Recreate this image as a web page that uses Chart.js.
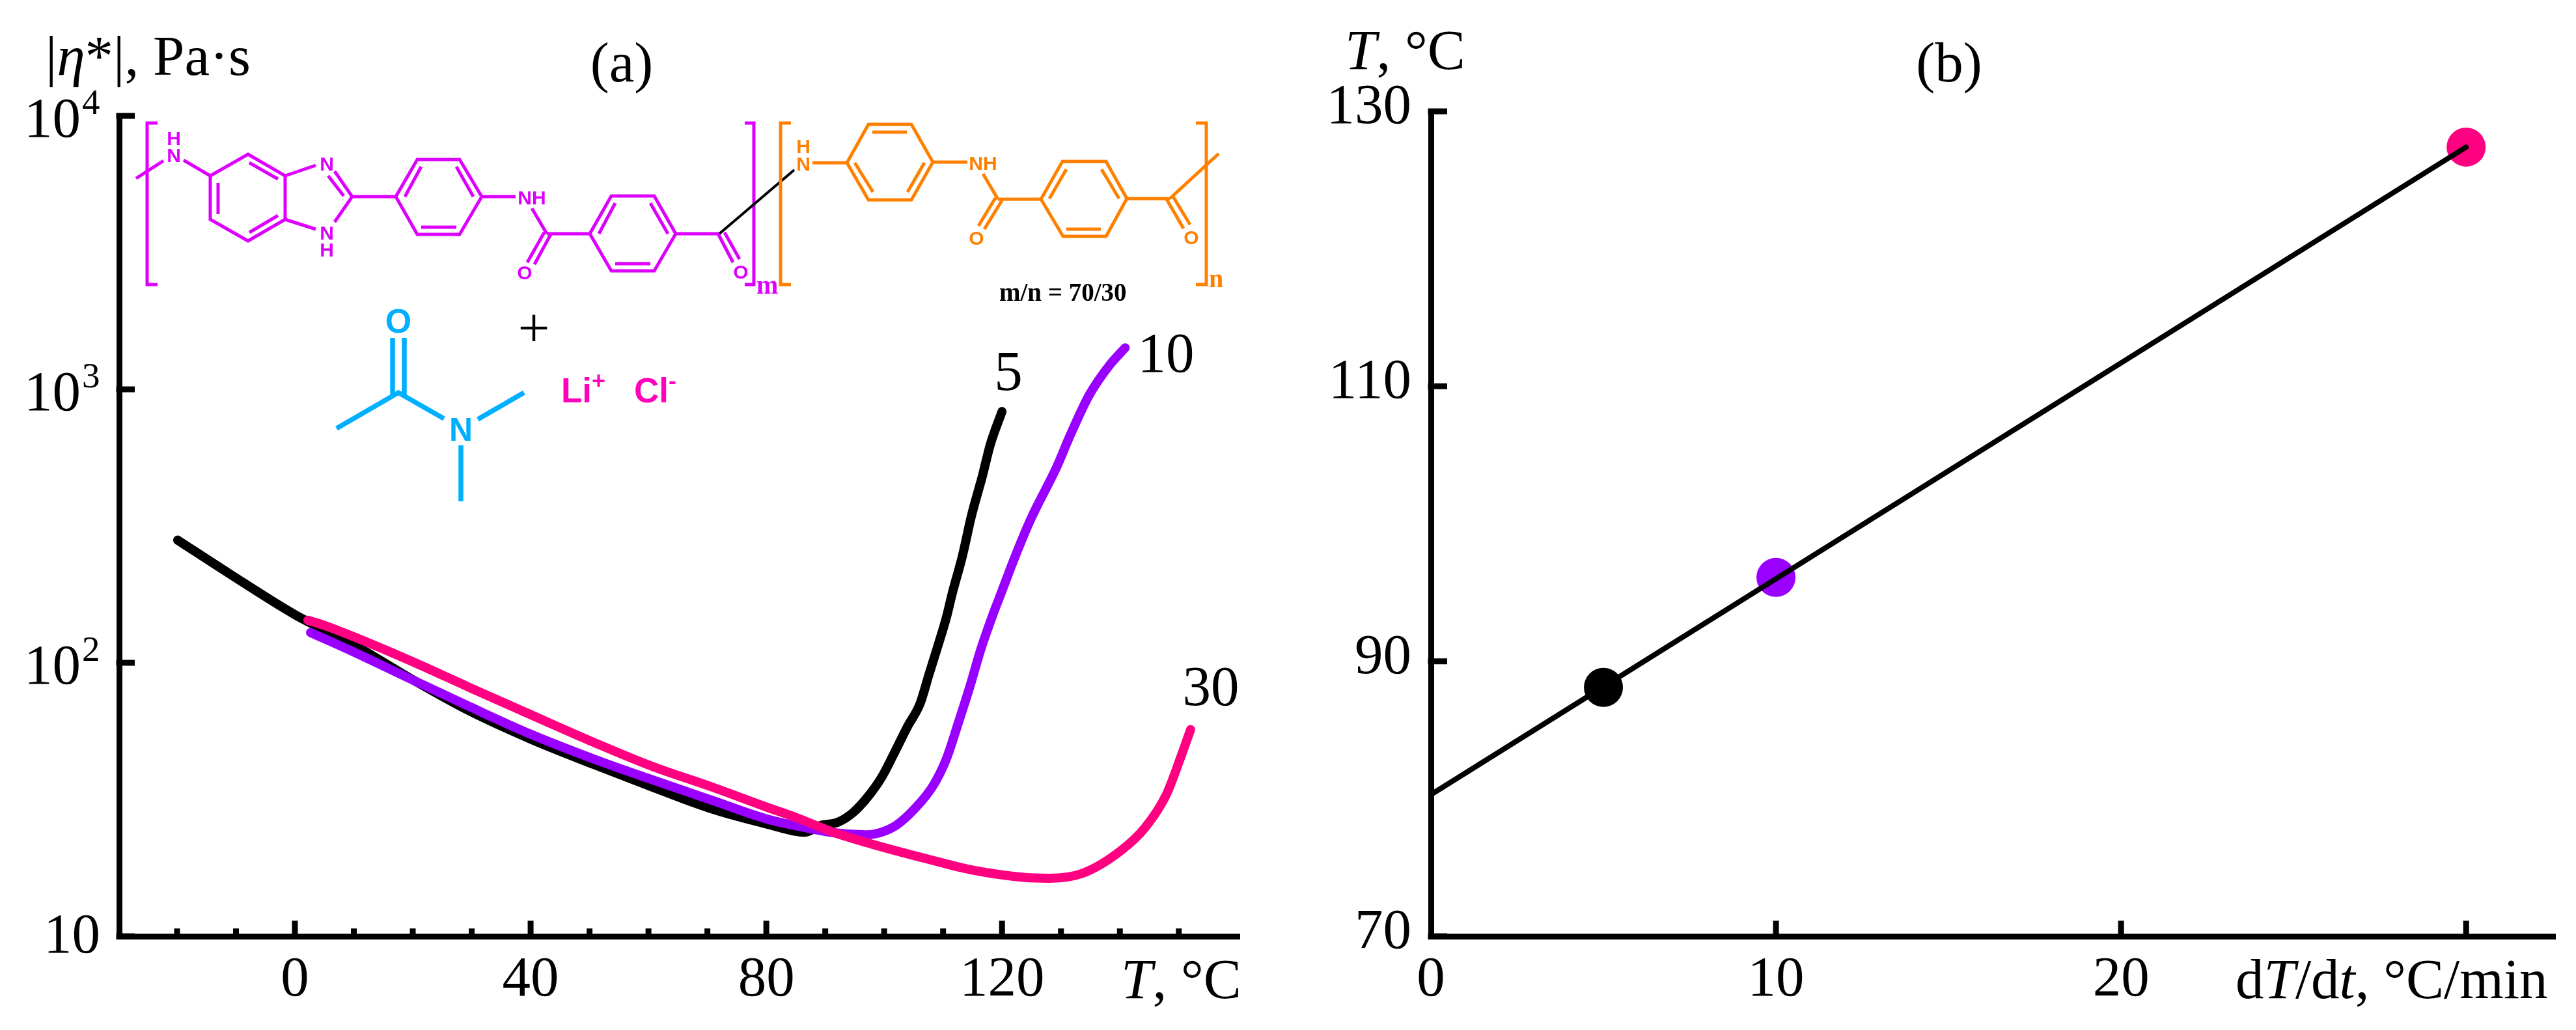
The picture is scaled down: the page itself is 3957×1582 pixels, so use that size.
<!DOCTYPE html>
<html>
<head>
<meta charset="utf-8">
<title>Complex viscosity vs temperature</title>
<script src="https://cdn.jsdelivr.net/npm/chart.js@4/dist/chart.umd.js"></script>
<style>
    html, body { margin: 0; padding: 0; background: #fff; }
    #page { position: relative; width: 3957px; height: 1582px; overflow: hidden; background: #fff; }
    canvas { position: absolute; top: 0; }
    #chart-a { left: 0; }
    #chart-b { left: 2000px; }
    svg { position: absolute; left: 0; top: 0; }
    .lbl { font-family: "Liberation Serif", serif; font-size: 87px; fill: #000; }
    .atom { font-family: "Liberation Sans", sans-serif; font-size: 30px; font-weight: bold; text-anchor: middle; }
    .bond { fill: none; stroke-width: 5; }
</style>
</head>
<body>
<div id="page">
    <canvas id="chart-a" width="2000" height="1582"></canvas>
    <canvas id="chart-b" width="1957" height="1582"></canvas>
    <svg width="3957" height="1582" viewBox="0 0 3957 1582">
        <!-- axis captions -->
        <text class="lbl" x="70" y="115">|<tspan font-style="italic">η</tspan>*|, Pa·s</text>
        <text class="lbl" x="955" y="125" text-anchor="middle">(a)</text>
        <text class="lbl" x="2994" y="125" text-anchor="middle">(b)</text>
        <text class="lbl" x="2066" y="106"><tspan font-style="italic">T</tspan>, °C</text>
        <text class="lbl" x="1722" y="1533"><tspan font-style="italic">T</tspan>, °C</text>
        <text class="lbl" x="3434" y="1533">d<tspan font-style="italic">T</tspan>/d<tspan font-style="italic">t</tspan>, °C/min</text>
        <!-- heating rate labels -->
        <text class="lbl" x="1549" y="599" text-anchor="middle">5</text>
        <text class="lbl" x="1791" y="571" text-anchor="middle">10</text>
        <text class="lbl" x="1860" y="1083" text-anchor="middle">30</text>

        <!-- PBI block -->
        <g stroke="#dd00ff" class="bond">
            <path d="M242 189H226V437H242M1144 189H1158V437H1144"/>
            <path d="M209 274L251 247M282 246L323 270L381 237L438 270V337L381 370L323 337V270"/>
            <path d="M335 281V329M383 250L427 275M383 357L427 331"/>
            <path d="M438 270L485 254M514 263L541 302L514 341M485 352L438 337M504 270L528 301"/>
            <path d="M541 302H608L641 245H706L740 302L706 360H641L608 302M622 302L647 256M701 256L727 302M647 349H701"/>
            <path d="M740 302H792M817 320L840 359M836 357L810 403M846 360L821 406"/>
            <path d="M840 359H906L939 301H1005L1038 359L1005 416H939L906 359M920 359L945 312M999 312L1026 359M945 405H999"/>
            <path d="M1038 359H1105M1103 359L1126 403M1113 357L1136 398"/>
        </g>
        <g fill="#dd00ff" class="atom">
            <text x="267" y="223">H</text>
            <text x="267" y="249">N</text>
            <text x="502" y="262">N</text>
            <text x="502" y="368">N</text>
            <text x="502" y="394">H</text>
            <text x="817" y="314">NH</text>
            <text x="806" y="429">O</text>
            <text x="1138" y="428">O</text>
        </g>
        <text x="1162" y="451" font-family="Liberation Serif" font-weight="bold" font-size="40" fill="#dd00ff">m</text>
        <path d="M1105 359L1220 261" stroke="#000" stroke-width="4" fill="none"/>

        <!-- PPTA block -->
        <g stroke="#ff8000" class="bond">
            <path d="M1215 189H1199V437H1215M1837 189H1853V437H1837"/>
            <path d="M1248 250H1301L1334 191H1400L1433 249L1400 307H1334L1301 250M1313 250L1341 295M1420 250L1394 295M1340 203H1393"/>
            <path d="M1433 249H1486M1510 267L1533 306M1529 304L1503 347M1539 308L1512 352"/>
            <path d="M1533 306H1599L1632 248H1699L1731 305L1699 363H1633L1599 306M1612 305L1638 260M1719 305L1692 260M1638 352H1691"/>
            <path d="M1731 305H1797M1792 306L1818 351M1802 302L1828 345M1797 305L1872 236"/>
        </g>
        <g fill="#ff8000" class="atom">
            <text x="1234" y="235">H</text>
            <text x="1234" y="262">N</text>
            <text x="1510" y="261">NH</text>
            <text x="1500" y="376">O</text>
            <text x="1830" y="375">O</text>
        </g>
        <text x="1857" y="441" font-family="Liberation Serif" font-weight="bold" font-size="40" fill="#ff8000">n</text>
        <text x="1535" y="462" font-family="Liberation Serif" font-weight="bold" font-size="39" fill="#000">m/n = 70/30</text>

        <!-- DMAc and LiCl -->
        <text class="lbl" x="820" y="533" text-anchor="middle">+</text>
        <path d="M603 519V607M621 519V607M517 658L612 603L682 643M734 644L805 603M708 684V770" stroke="#00b0ff" stroke-width="7.5" fill="none"/>
        <text x="612" y="511" font-family="Liberation Sans" font-weight="bold" font-size="52" text-anchor="middle" fill="#00b0ff">O</text>
        <text x="708" y="677" font-family="Liberation Sans" font-weight="bold" font-size="50" text-anchor="middle" fill="#00b0ff">N</text>
        <text x="862" y="618" font-family="Liberation Sans" font-weight="bold" font-size="53" fill="#ff00bb">Li<tspan dy="-21" font-size="36">+</tspan></text>
        <text x="974" y="618" font-family="Liberation Sans" font-weight="bold" font-size="53" fill="#ff00bb">Cl<tspan dy="-21" font-size="36">-</tspan></text>
    </svg>
</div>

<script>
    // --- PANEL A DATA: |eta*| vs T for three heating rates ---
    const temp5 = [-19.9, -11.3, 0, 9.8, 20.4, 29.6, 40.1, 50.7, 60.4, 71, 80.2, 86.5, 89.2, 92.1, 94.7, 97.3, 99.5, 101.7, 103.9, 106.1, 107.6, 109.1, 110.5, 111.6, 113.3, 114.8, 116.7, 118, 120];
    const eta5 = [281, 213, 150, 117, 85.7, 66.7, 52.5, 42.5, 35.3, 29.1, 25.7, 24, 25.4, 26.1, 28.3, 32.5, 37.9, 46.7, 58.1, 71, 90.6, 115, 145, 181, 247, 344, 485, 627, 830];

    const temp10 = [2.65, 9.8, 20.4, 29.6, 40.1, 50.7, 60.4, 71, 80.2, 86, 91.4, 96.9, 99.5, 102.1, 105.4, 108.3, 110.5, 112.7, 114.6, 116.4, 118.5, 119.9, 122, 124.9, 129.3, 131.5, 134.8, 138.3, 140.9];
    const eta10 = [129, 110, 85.7, 69.2, 54.7, 44.5, 37.5, 31.3, 26.8, 25.1, 23.9, 23.5, 24, 25.5, 29.6, 35.5, 44.2, 61.4, 82.6, 112, 151, 181, 238, 336, 521, 674, 953, 1230, 1419];

    const temp30 = [2.2, 5, 10.6, 20.4, 29.6, 40.1, 50.7, 60.4, 71, 80.2, 84.8, 91.4, 98, 107.6, 114.7, 123.9, 128, 133.7, 140.1, 144.3, 147.9, 150.3, 152];
    const eta30 = [143, 137, 123, 100, 81.3, 64.5, 51.2, 42, 35, 29.6, 27.3, 24, 21.7, 19.1, 17.5, 16.4, 16.3, 17, 20.5, 25, 33, 45, 57];

    const tempTicksA = [-20, -10, 0, 10, 20, 30, 40, 50, 60, 70, 80, 90, 100, 110, 120, 130, 140, 150];
    const tempLabelsA = [0, 40, 80, 120];
    const etaTicks = [10, 100, 1000, 10000];
    const etaExponents = ['', '2', '3', '4'];

    // --- PANEL B DATA: gel temperature vs heating rate ---
    const rates = [5, 10, 30];
    const gelTemps = [88.1, 96.1, 127.4];
    const fitRates = [0, 30];
    const fitTemps = [80.3, 127.4];

    const rateTicks = [0, 10, 20, 30];
    const rateLabels = ['0', '10', '20', ''];
    const gelTicks = [70, 90, 110, 130];

    const BLACK = '#000000';
    const PURPLE = '#9900ff';
    const PINK = '#ff0080';
    const SERIF = "'Liberation Serif', serif";
    const TICK_FONT = { family: SERIF, size: 87 };
    const AXIS_WIDTH = 9;

    const toPoints = (xs, ys) => xs.map((x, i) => ({ x: x, y: ys[i] }));

    // Chart.js only draws ticks outward, these go inward and can differ in length
    const inwardTicks = {
        id: 'inwardTicks',
        afterDraw(chart, args, opts) {
            const { ctx, chartArea, scales } = chart;
            ctx.save();
            ctx.strokeStyle = BLACK;
            ctx.lineWidth = AXIS_WIDTH;
            ctx.beginPath();
            scales.x.ticks.forEach(tick => {
                const len = opts.xLength(tick.value);
                if (!len) return;
                const px = scales.x.getPixelForValue(tick.value);
                ctx.moveTo(px, chartArea.bottom);
                ctx.lineTo(px, chartArea.bottom - len);
            });
            scales.y.ticks.forEach(tick => {
                const py = scales.y.getPixelForValue(tick.value);
                ctx.moveTo(chartArea.left - AXIS_WIDTH / 2, py);
                ctx.lineTo(chartArea.left + opts.yLength, py);
            });
            ctx.stroke();
            ctx.restore();
        }
    };

    // Tick labels with a raised exponent, a native tick label has only one font
    const powerLabels = {
        id: 'powerLabels',
        afterDraw(chart) {
            const { ctx, chartArea, scales } = chart;
            ctx.save();
            ctx.fillStyle = BLACK;
            ctx.textBaseline = 'alphabetic';
            etaTicks.forEach((value, i) => {
                const py = scales.y.getPixelForValue(value);
                const exponent = etaExponents[i];
                ctx.font = `87px ${SERIF}`;
                ctx.textAlign = 'right';
                if (exponent) {
                    ctx.fillText('10', chartArea.left - 59, py + 32);
                    ctx.font = `55px ${SERIF}`;
                    ctx.textAlign = 'left';
                    ctx.fillText(exponent, chartArea.left - 57, py - 3);
                } else {
                    ctx.fillText('10', chartArea.left - 29, py + 25);
                }
            });
            ctx.restore();
        }
    };

    function baseAxis(min, max, ticks, labelOf, extra) {
        return Object.assign({
            min: min,
            max: max,
            afterBuildTicks: scale => { scale.ticks = ticks.map(value => ({ value: value })); },
            border: { display: true, color: BLACK, width: AXIS_WIDTH },
            grid: { display: true, drawOnChartArea: false, drawTicks: false, color: 'rgba(0,0,0,0)' },
            ticks: {
                color: BLACK,
                font: TICK_FONT,
                autoSkip: false,
                maxRotation: 0,
                minRotation: 0,
                callback: labelOf
            }
        }, extra);
    }

    function curve(data, color, order) {
        return {
            data: data,
            borderColor: color,
            borderWidth: 14,
            borderCapStyle: 'round',
            borderJoinStyle: 'round',
            cubicInterpolationMode: 'monotone',
            pointRadius: 0,
            showLine: true,
            fill: false,
            clip: false,
            order: order
        };
    }

    // --- CHART A ---
    const xA = baseAxis(-29.83, 160.3, tempTicksA, value => (tempLabelsA.includes(value) ? String(value) : ''), {
        type: 'linear',
        afterFit: scale => { scale.height = 144; }
    });
    xA.ticks.padding = 16;

    const yA = baseAxis(10, 10000, etaTicks, () => '', {
        type: 'logarithmic',
        afterFit: scale => { scale.width = 183; }
    });

    new Chart(document.getElementById('chart-a'), {
        type: 'scatter',
        data: {
            datasets: [
                curve(toPoints(temp5, eta5), BLACK, 3),
                curve(toPoints(temp10, eta10), PURPLE, 2),
                curve(toPoints(temp30, eta30), PINK, 1)
            ]
        },
        options: {
            responsive: false,
            animation: false,
            devicePixelRatio: 1,
            layout: { padding: { top: 178, right: 96, left: 0, bottom: 0 } },
            scales: { x: xA, y: yA },
            plugins: {
                legend: { display: false },
                tooltip: { enabled: false },
                inwardTicks: { yLength: 24, xLength: value => (value % 40 === 0 ? 24 : 12) }
            }
        },
        plugins: [inwardTicks, powerLabels]
    });

    // --- CHART B ---
    const xB = baseAxis(0, 32.58, rateTicks, value => rateLabels[rateTicks.indexOf(value)], {
        type: 'linear',
        afterFit: scale => { scale.height = 144; }
    });
    xB.ticks.padding = 16;

    const yB = baseAxis(70, 130, gelTicks, value => String(value), {
        type: 'linear',
        afterFit: scale => { scale.width = 198; }
    });
    yB.ticks.padding = 30;
    yB.ticks.labelOffset = -5;

    new Chart(document.getElementById('chart-b'), {
        type: 'scatter',
        data: {
            datasets: [
                {
                    data: toPoints(fitRates, fitTemps),
                    borderColor: BLACK,
                    borderWidth: 8,
                    borderCapStyle: 'round',
                    showLine: true,
                    pointRadius: 0,
                    clip: false,
                    order: 1
                },
                {
                    data: toPoints(rates, gelTemps),
                    showLine: false,
                    pointRadius: 30,
                    pointBorderWidth: 0,
                    pointBackgroundColor: [BLACK, PURPLE, PINK],
                    clip: false,
                    order: 2
                }
            ]
        },
        options: {
            responsive: false,
            animation: false,
            devicePixelRatio: 1,
            layout: { padding: { top: 171, right: 32, left: 0, bottom: 0 } },
            scales: { x: xB, y: yB },
            plugins: {
                legend: { display: false },
                tooltip: { enabled: false },
                inwardTicks: { yLength: 25, xLength: value => (value === 0 ? 0 : 24) }
            }
        },
        plugins: [inwardTicks]
    });
</script>
</body>
</html>
